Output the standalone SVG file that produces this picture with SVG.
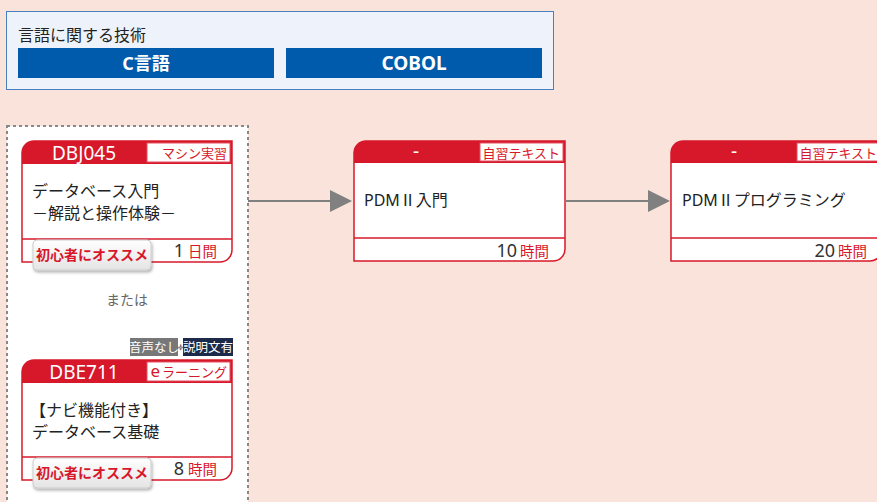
<svg xmlns="http://www.w3.org/2000/svg" width="877" height="502" viewBox="0 0 877 502">
<defs>
<style>
text{font-family:"Noto Sans","Noto Sans CJK JP",sans-serif;}
.card{fill:#fff;stroke:#D7182A;stroke-width:1.5;}
.hdr{fill:#D7182A;}
.tagbox{fill:#fff;stroke:#E25060;stroke-width:1;}
.code{fill:#fff;font-size:19px;text-anchor:middle;}
.tag{fill:#D7182A;font-size:13px;text-anchor:end;}
.body{fill:#222;font-size:16px;}
.div{stroke:#D7182A;stroke-width:1.5;}
.num{fill:#333;font-size:18px;}
.unit{fill:#D7182A;font-size:14.5px;}
.badge{fill:url(#bg);stroke:#ccc;stroke-width:1;filter:url(#sh);}
.btxt{fill:#D7182A;font-size:14px;font-weight:bold;text-anchor:middle;}
.conn{stroke:#808080;stroke-width:2;fill:none;}
</style>
<linearGradient id="bg" x1="0" y1="0" x2="0" y2="1">
<stop offset="0" stop-color="#ffffff"/>
<stop offset="1" stop-color="#e4e4e4"/>
</linearGradient>
<filter id="sh" x="-10%" y="-20%" width="130%" height="160%">
<feDropShadow dx="1" dy="2" stdDeviation="1.5" flood-color="#000" flood-opacity="0.3"/>
</filter>
</defs>
<rect width="877" height="502" fill="#FAE3DA"/>

<g id="lang">
<rect x="6.5" y="11.5" width="547" height="78" fill="#EEF2FA" stroke="#4A7FC0" stroke-width="1"/>
<text x="18" y="41" font-size="16" fill="#222">言語に関する技術</text>
<rect x="18" y="48" width="256" height="30" fill="#005BAC"/>
<text x="146" y="70" font-size="18" font-weight="bold" fill="#fff" text-anchor="middle">C言語</text>
<rect x="286" y="48" width="256" height="30" fill="#005BAC"/>
<text x="414" y="70" font-size="19" font-weight="bold" fill="#fff" text-anchor="middle">COBOL</text>
</g>

<g id="choice">
<rect x="7" y="126" width="241" height="390" fill="#fff" stroke="#888" stroke-width="2" stroke-dasharray="3 3"/>
<text x="127" y="305" font-size="14" fill="#666" text-anchor="middle">または</text>
</g>

<g id="DBJ045">
<path class="card" d="M34,141 H232 V250 A12,12 0 0 1 220,262 H22 V153 A12,12 0 0 1 34,141 Z"/>
<path class="hdr" d="M34,141 H232 V164 H22 V153 A12,12 0 0 1 34,141 Z"/>
<rect class="tagbox" x="147" y="143" width="83" height="19"/>
<text class="code" x="84" y="160">DBJ045</text>
<text class="tag" x="227" y="158">マシン実習</text>
<text class="body" x="32" y="197">データベース入門</text>
<text class="body" x="32" y="219">－解説と操作体験－</text>
<line class="div" x1="22" y1="239" x2="232" y2="239"/>
<text x="217" y="257" text-anchor="end"><tspan class="num">1</tspan><tspan class="unit" dx="4">日間</tspan></text>
<rect class="badge" x="33" y="240" width="118" height="30" rx="4"/>
<text class="btxt" x="92" y="260">初心者にオススメ</text>
</g>

<g id="DBE711">
<rect x="130" y="338" width="48" height="18" fill="#777"/>
<text x="154" y="352" font-size="12.5" fill="#fff" text-anchor="middle">音声なし</text>
<rect x="183" y="338" width="50" height="18" fill="#1B2A4A"/>
<text x="180.5" y="351" font-size="10" fill="#fff" stroke="#444" stroke-width="0.5" text-anchor="middle">+</text>
<text x="208" y="352" font-size="12.5" fill="#fff" text-anchor="middle">説明文有</text>
<path class="card" d="M34,360 H232 V468 A12,12 0 0 1 220,480 H22 V372 A12,12 0 0 1 34,360 Z"/>
<path class="hdr" d="M34,360 H232 V383 H22 V372 A12,12 0 0 1 34,360 Z"/>
<rect class="tagbox" x="147" y="362" width="83" height="19"/>
<text class="code" x="84" y="379">DBE711</text>
<text class="tag" x="227" y="377"><tspan font-size="17">e</tspan><tspan dx="2">ラーニング</tspan></text>
<text class="body" x="30" y="416">【ナビ機能付き】</text>
<text class="body" x="32" y="438">データベース基礎</text>
<line class="div" x1="22" y1="457" x2="232" y2="457"/>
<text x="217" y="475" text-anchor="end"><tspan class="num">8</tspan><tspan class="unit" dx="4">時間</tspan></text>
<rect class="badge" x="33" y="458" width="118" height="30" rx="4"/>
<text class="btxt" x="92" y="478">初心者にオススメ</text>
</g>

<g id="PDM1">
<path class="card" d="M366,141 H565 V249 A12,12 0 0 1 553,261 H354 V153 A12,12 0 0 1 366,141 Z"/>
<path class="hdr" d="M366,141 H565 V163 H354 V153 A12,12 0 0 1 366,141 Z"/>
<rect class="tagbox" x="480" y="143" width="83" height="18"/>
<text class="code" x="416" y="158" font-size="15">-</text>
<text class="tag" x="560" y="158" font-size="12.5">自習テキスト</text>
<text class="body" x="364" y="206">PDMⅡ入門</text>
<line class="div" x1="354" y1="238" x2="565" y2="238" stroke-width="1"/>
<text x="549" y="257" text-anchor="end"><tspan class="num">10</tspan><tspan class="unit" dx="3">時間</tspan></text>
</g>

<g id="PDM2">
<path class="card" d="M683,141 H882 V249 A12,12 0 0 1 870,261 H671 V153 A12,12 0 0 1 683,141 Z"/>
<path class="hdr" d="M683,141 H882 V163 H671 V153 A12,12 0 0 1 683,141 Z"/>
<rect class="tagbox" x="797" y="143" width="83" height="18"/>
<text class="code" x="734" y="158" font-size="15">-</text>
<text class="tag" x="877" y="158" font-size="12.5">自習テキスト</text>
<text class="body" x="682" y="206">PDMⅡプログラミング</text>
<line class="div" x1="671" y1="238" x2="882" y2="238" stroke-width="1"/>
<text x="867" y="257" text-anchor="end"><tspan class="num">20</tspan><tspan class="unit" dx="3">時間</tspan></text>
</g>

<g id="connectors">
<line class="conn" x1="248" y1="201" x2="331" y2="201"/>
<polygon points="330,190 352,201 330,212" fill="#808080"/>
<line class="conn" x1="565" y1="201" x2="649" y2="201"/>
<polygon points="648,190 670,201 648,212" fill="#808080"/>
</g>
</svg>
